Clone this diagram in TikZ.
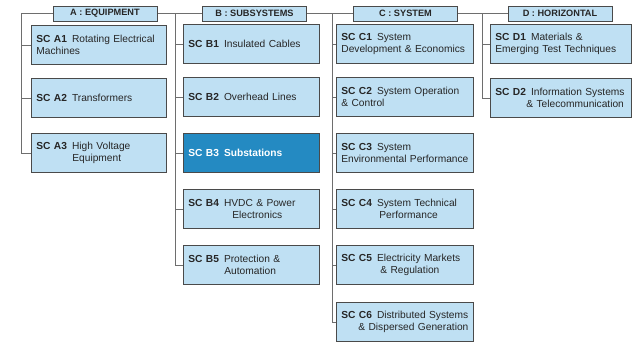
\documentclass[tikz,border=0pt]{standalone}
\usepackage{fontspec}
\setmainfont{Liberation Sans}
\usetikzlibrary{calc}

\definecolor{boxfill}{HTML}{BFE0F3}
\definecolor{boxline}{HTML}{4A4A4A}
\definecolor{selfill}{HTML}{248AC2}
\definecolor{linkgray}{HTML}{6E6E6E}
\definecolor{txt}{HTML}{262626}

\newcommand{\sclbl}[1]{\textbf{SC #1}\hspace{5pt}}

\begin{document}
\begin{tikzpicture}[x=1pt,y=-1pt,
	sc/.style={draw=boxline,fill=boxfill,line width=0.8pt,anchor=north west,
		minimum height=39pt,inner xsep=5pt,inner ysep=2pt,text width=#1,align=left,
		text=txt,font=\fontsize{10.2}{12.2}\selectfont},
	sel/.style={fill=selfill,text=white,font=\fontsize{10.2}{12.2}\selectfont\bfseries},
	head/.style={draw=boxline,fill=boxfill,line width=0.8pt,minimum width=104pt,
		minimum height=15pt,inner sep=0pt,text=txt,font=\fontsize{9.2}{10}\selectfont\bfseries},
	link/.style={draw=linkgray,line width=0.8pt}]
	\useasboundingbox (0,0) rectangle (636,343);

	% column A
	\node[sc=125pt] (a1) at (31,25) {\sclbl{A1}Rotating Electrical\\Machines};
	\node[sc=125pt] (a2) at (31,78) {\sclbl{A2}Transformers};
	\node[sc=125pt] (a3) at (31,133) {\sclbl{A3}High Voltage\\\hspace*{36pt}Equipment};

	% column B
	\node[sc=126pt] (b1) at (183,24) {\sclbl{B1}Insulated Cables};
	\node[sc=126pt] (b2) at (183,77) {\sclbl{B2}Overhead Lines};
	\node[sc=126pt,sel] (b3) at (183,133) {SC B3\hspace{5pt}Substations};
	\node[sc=126pt] (b4) at (183,189) {\sclbl{B4}HVDC \& Power\\\hspace*{44pt}Electronics};
	\node[sc=126pt] (b5) at (183,245) {\sclbl{B5}Protection \&\\\hspace*{36pt}Automation};

	% column C
	\node[sc=127pt] (c1) at (336,24) {\sclbl{C1}System\\Development \& Economics};
	\node[sc=127pt] (c2) at (336,77) {\sclbl{C2}System Operation\\\& Control};
	\node[sc=127pt] (c3) at (336,133) {\sclbl{C3}System\\Environmental Performance};
	\node[sc=127pt] (c4) at (336,189) {\sclbl{C4}System Technical\\\hspace*{38pt}Performance};
	\node[sc=127pt] (c5) at (336,245) {\sclbl{C5}Electricity Markets\\\hspace*{39pt}\& Regulation};
	\node[sc=127pt] (c6) at (336,302) {\sclbl{C6}Distributed Systems\\\hspace*{17pt}\& Dispersed Generation};

	% column D
	\node[sc=131pt] (d1) at (490,24) {\sclbl{D1}Materials \&\\Emerging Test Techniques};
	\node[sc=131pt] (d2) at (490,78) {\sclbl{D2}Information Systems\\\hspace*{31pt}\mbox{\& Telecommunication}};

	% tree lines
	\coordinate (ta) at (21,13.5);
	\coordinate (tb) at (175,13.5);
	\coordinate (tc) at (332,13.5);
	\coordinate (td) at (482,13.5);
	\coordinate (te) at (508,13.5);
	\draw[link] (ta) -- (te);
	\draw[link] (ta) |- (a3.west);
	\draw[link] (tb) |- (b5.west);
	\draw[link] (tc) |- (c6.west);
	\draw[link] (td) |- (d2.west);
	\foreach \n in {a1,a2}
		\draw[link] (ta |- \n.west) -- (\n.west);
	\foreach \n in {b1,b2,b3,b4}
		\draw[link] (tb |- \n.west) -- (\n.west);
	\foreach \n in {c1,c2,c3,c4,c5}
		\draw[link] (tc |- \n.west) -- (\n.west);
	\draw[link] (td |- d1.west) -- (d1.west);

	% headers
	\node[head] (ha) at (105,13.5) {A : EQUIPMENT};
	\node[head] (hb) at (254.5,13.5) {B : SUBSYSTEMS};
	\node[head] (hc) at (405.5,13.5) {C : SYSTEM};
	\node[head] (hd) at (560,13.5) {D : HORIZONTAL};
\end{tikzpicture}
\end{document}
